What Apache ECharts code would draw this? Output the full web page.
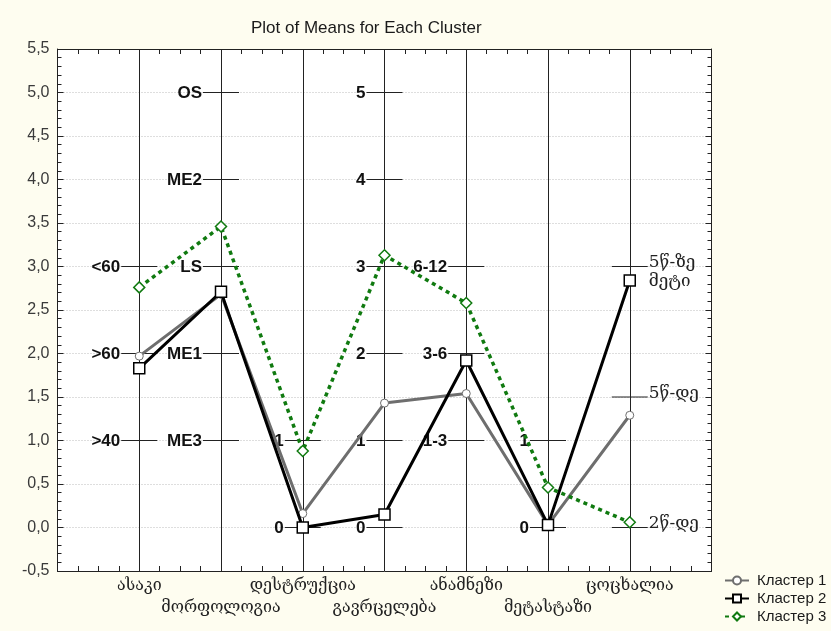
<!DOCTYPE html>
<html>
<head>
<meta charset="utf-8">
<script src="https://cdn.jsdelivr.net/npm/echarts@6/dist/echarts.min.js"></script>
<style>
html,body{margin:0;padding:0;background:#fefdf0;}
#c{width:831px;height:631px;}
</style>
</head>
<body>
<div id="c"></div>
<script>
// ---- data ----
const categories = ['ასაკი','მორფოლოგია','დესტრუქცია','გავრცელება','ანამნეზი','მეტასტაზი','ცოცხალია'];
const seriesNames = ['Кластер 1','Кластер 2','Кластер 3'];
const cluster1 = [1.97, 2.68, 0.16, 1.43, 1.54, 0.03, 1.29];
const cluster2 = [1.83, 2.71, 0.00, 0.15, 1.92, 0.03, 2.84];
const cluster3 = [2.76, 3.46, 0.88, 3.13, 2.58, 0.46, 0.06];
// scale markers on each category axis: [category number, value, label]
const axisMarks = [
  [1,3,'<60'],[1,2,'>60'],[1,1,'>40'],
  [2,5,'OS'],[2,4,'ME2'],[2,3,'LS'],[2,2,'ME1'],[2,1,'ME3'],
  [3,1,'1'],[3,0,'0'],
  [4,5,'5'],[4,4,'4'],[4,3,'3'],[4,2,'2'],[4,1,'1'],[4,0,'0'],
  [5,3,'6-12'],[5,2,'3-6'],[5,1,'1-3'],
  [6,1,'1'],[6,0,'0'],
  [7,3,'5წ-ზე\nმეტი'],[7,1.5,'5წ-დე'],[7,0,'2წ-დე']
];
const yMin = -0.5, yMax = 5.5, yStep = 0.5;

const chart = echarts.init(document.getElementById('c'), null, {renderer:'canvas'});
const toPairs = arr => arr.map((v,i)=>[i+1, v]);
const geoFont = '"DejaVu Serif", "DejaVu Sans", serif';
const latFont = '"Liberation Sans", Arial, sans-serif';

const option = {
  backgroundColor: '#fefdf0',
  animation: false,
  title: {
    text: 'Plot of Means for Each Cluster',
    left: 246, top: 15,
    textStyle: {fontFamily: latFont, fontSize: 17, fontWeight: 'normal', color: '#1a1a1a'}
  },
  legend: {
    orient: 'vertical', left: 719, top: 568,
    itemWidth: 24, itemHeight: 10, itemGap: 3,
    data: seriesNames,
    textStyle: {fontFamily: latFont, fontSize: 15, color: '#1a1a1a', padding: [0,0,0,3]}
  },
  grid: {left: 57.5, right: 119.5, top: 49, bottom: 60, show: true, backgroundColor: '#ffffff', borderWidth: 0},
  xAxis: [{
    type: 'value', min: 0, max: 8, interval: 1, position: 'bottom',
    axisLine: {show: true, onZero: false, lineStyle: {color: '#222', width: 1}},
    axisTick: {show: true, inside: true, length: 5, lineStyle: {color: '#222'}},
    minorTick: {show: true, splitNumber: 4, length: 5, lineStyle: {color: '#222'}},
    splitLine: {show: true, lineStyle: {color: '#222', width: 1}},
    axisLabel: {
      margin: 4, fontFamily: geoFont, fontSize: 16, color: '#222', lineHeight: 22,
      verticalAlign: 'top',
      formatter: v => {
        if (v < 1 || v > categories.length) return '';
        const name = categories[v-1];
        return (v % 2 === 0) ? '\n' + name : name;
      }
    }
  },{
    type: 'value', min: 0, max: 8, interval: 1, position: 'top',
    axisLine: {show: true, onZero: false, lineStyle: {color: '#222', width: 1}},
    axisTick: {show: true, inside: true, length: 5, lineStyle: {color: '#222'}},
    minorTick: {show: true, splitNumber: 4, length: 5, lineStyle: {color: '#222'}},
    splitLine: {show: false},
    axisLabel: {show: false}
  }],
  yAxis: [{
    type: 'value', min: yMin, max: yMax, interval: yStep, position: 'left',
    axisLine: {show: true, onZero: false, lineStyle: {color: '#222', width: 1}},
    axisTick: {show: true, inside: true, length: 6, lineStyle: {color: '#222'}},
    minorTick: {show: true, splitNumber: 5, length: 4, lineStyle: {color: '#222'}},
    splitLine: {show: true, lineStyle: {color: '#bdbdbd', width: 1, type: [1,2]}},
    axisLabel: {
      margin: 8, fontFamily: latFont, fontSize: 16, color: '#3a3a3a',
      formatter: v => v.toFixed(1).replace('.', ',')
    }
  },{
    type: 'value', min: yMin, max: yMax, interval: yStep, position: 'right',
    axisLine: {show: true, onZero: false, lineStyle: {color: '#222', width: 1}},
    axisTick: {show: true, inside: true, length: 6, lineStyle: {color: '#222'}},
    minorTick: {show: true, splitNumber: 5, length: 4, lineStyle: {color: '#222'}},
    splitLine: {show: false},
    axisLabel: {show: false}
  }],
  series: [
    {
      type: 'custom', name: 'marks', xAxisIndex: 0, yAxisIndex: 0, z: 1, silent: true,
      data: axisMarks,
      renderItem: (params, api) => {
        const cat = api.value(0), val = api.value(1);
        const label = axisMarks[params.dataIndex][2];
        const p = api.coord([cat, val]);
        const right = cat === categories.length;
        const half = 18;
        const children = [{
          type: 'line',
          shape: {x1: p[0]-half, y1: p[1], x2: p[0]+half, y2: p[1]},
          style: {stroke: '#222', lineWidth: 1}
        }];
        if (right) {
          children.push({
            type: 'text',
            style: {
              text: label, x: p[0]+half+1, y: p[1]-13,
              align: 'left', verticalAlign: 'top',
              font: '17px ' + geoFont, lineHeight: 19, fill: '#222'
            }
          });
        } else {
          children.push({
            type: 'text',
            style: {
              text: label, x: p[0]-half-1, y: p[1]+1,
              align: 'right', verticalAlign: 'middle',
              font: 'bold 17px ' + latFont, fill: '#111'
            }
          });
        }
        return {type: 'group', children};
      }
    },
    {
      name: seriesNames[0], type: 'line', z: 3, data: toPairs(cluster1),
      symbol: 'circle', symbolSize: 8,
      lineStyle: {color: '#6e6e6e', width: 3},
      itemStyle: {color: '#ffffff', borderColor: '#6e6e6e', borderWidth: 1}
    },
    {
      name: seriesNames[1], type: 'line', z: 4, data: toPairs(cluster2),
      symbol: 'rect', symbolSize: 11,
      lineStyle: {color: '#000000', width: 3},
      itemStyle: {color: '#ffffff', borderColor: '#000000', borderWidth: 1.5}
    },
    {
      name: seriesNames[2], type: 'line', z: 5, data: toPairs(cluster3),
      symbol: 'diamond', symbolSize: 11,
      lineStyle: {color: '#107a10', width: 3.5, type: [4,4]},
      itemStyle: {color: '#ffffff', borderColor: '#107a10', borderWidth: 1.5}
    }
  ]
};
chart.setOption(option);
</script>
</body>
</html>
